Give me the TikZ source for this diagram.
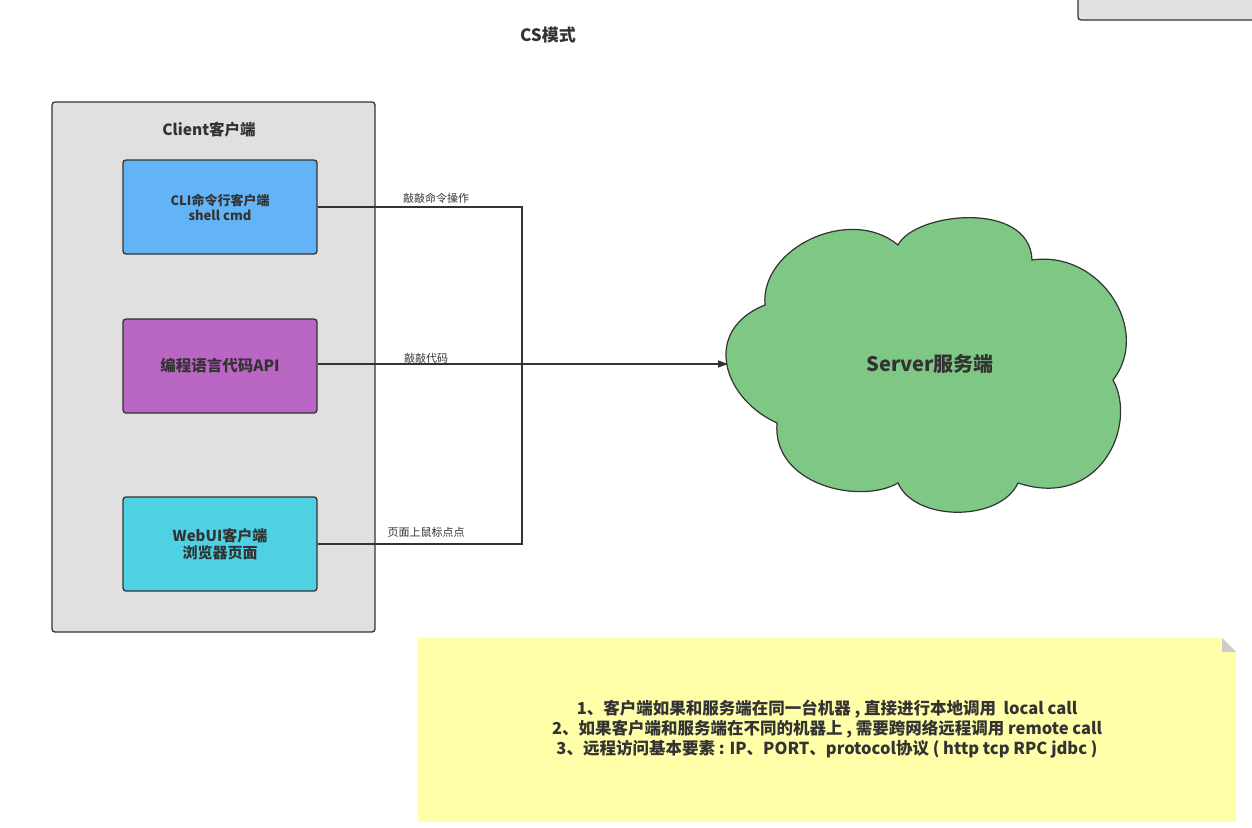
\documentclass[tikz,border=0pt]{standalone}
\usepackage{fontspec}
\setmainfont{Noto Sans CJK SC}
\usetikzlibrary{arrows.meta}
\definecolor{txt}{HTML}{333333}
\definecolor{edge}{HTML}{333333}
\definecolor{clientbg}{HTML}{E0E0E0}
\definecolor{cliblue}{HTML}{63B4F6}
\definecolor{apipurple}{HTML}{B966C5}
\definecolor{webcyan}{HTML}{4DD1E3}
\definecolor{cloudgreen}{HTML}{7EC784}
\definecolor{noteyellow}{HTML}{FFFFAA}
\begin{document}
\begin{tikzpicture}[x=1pt,y=-1pt,
  every node/.style={text=txt, inner sep=0pt},
  box/.style={draw=edge, line width=1.3pt, rounded corners=3pt},
  inbox/.style={box, minimum width=194pt, minimum height=94pt, align=center, font=\bfseries\fontsize{14}{17}\selectfont},
  conn/.style={draw=edge, line width=1.4pt},
  lbl/.style={font=\fontsize{11}{13}\selectfont, anchor=base},
]
\useasboundingbox (0,0) rectangle (1252,827);
\fill[white] (0,0) rectangle (1252,827);

% partial box at top right
\draw[box, fill=clientbg] (1078,-10) -- (1078,20) -- (1262,20) -- (1262,-10);

% title
\node[font=\bfseries\fontsize{17}{20}\selectfont] (title) at (548,35) {CS模式};

% client container
\draw[box, fill=clientbg] (52,102) rectangle (375,632);
\node[font=\bfseries\fontsize{15.5}{18}\selectfont] (clientlbl) at (209,130) {Client客户端};

\node[inbox, fill=cliblue, font=\bfseries\fontsize{13}{15}\selectfont] (cli) at (220,207) {CLI命令行客户端\\shell cmd};
\node[inbox, fill=apipurple, font=\bfseries\fontsize{15.5}{18}\selectfont] (api) at (220,366) {编程语言代码API};
\node[inbox, fill=webcyan, font=\bfseries\fontsize{15}{17}\selectfont] (web) at (220,544) {WebUI客户端\\浏览器页面};

% cloud
\filldraw[fill=cloudgreen, draw=edge, line width=1.2pt]
  (765,305) .. controls (760,248) and (850,205) .. (898,245)
  .. controls (915,212) and (1030,200) .. (1032,260)
  .. controls (1100,250) and (1152,330) .. (1113,380)
  .. controls (1138,425) and (1100,510) .. (1018,483)
  .. controls (1000,522) and (915,522) .. (898,483)
  .. controls (860,505) and (772,485) .. (777,423)
  .. controls (722,398) and (702,330) .. (765,305) -- cycle;
\coordinate (cloudin) at (728,364);
\node[font=\bfseries\fontsize{20}{24}\selectfont] (server) at (930,364) {Server服务端};

% connectors
\coordinate (junc) at (522,364);
\draw[conn] (cli.east) -- (cli.east -| junc) -- (junc);
\draw[conn] (web.east) -- (web.east -| junc) -- (junc);
\draw[conn, -{Triangle[length=10pt,width=7pt]}] (api.east |- junc) -- (cloudin);

\node[lbl] (l1) at (436,202) {敲敲命令操作};
\node[lbl] (l2) at (426,362) {敲敲代码};
\node[lbl] (l3) at (426,536) {页面上鼠标点点};

% note
\fill[noteyellow] (418,638) -- (1222,638) -- (1236,652) -- (1236,822) -- (418,822) -- cycle;
\fill[gray!40] (1222,638) -- (1236,652) -- (1222,652) -- cycle;
\node[align=center, font=\bfseries\fontsize{16.5}{20}\selectfont] (note) at (827,729)
  {1、客户端如果和服务端在同一台机器 , 直接进行本地调用\ \ local call\\
   2、如果客户端和服务端在不同的机器上 , 需要跨网络远程调用 remote call\\
   3、远程访问基本要素 : IP、PORT、protocol协议 ( http tcp RPC jdbc )};
\end{tikzpicture}
\end{document}
